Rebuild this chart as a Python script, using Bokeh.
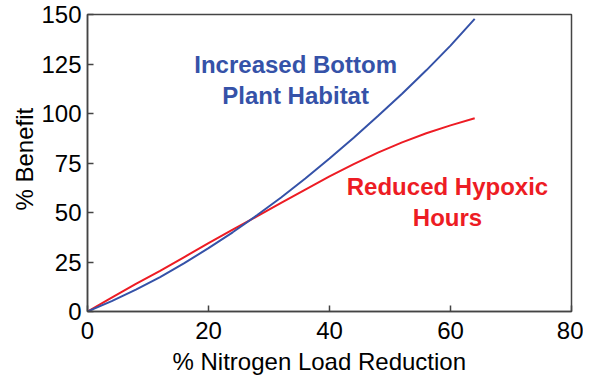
from bokeh.plotting import figure
from bokeh.models import Range1d, FixedTicker, Title
from bokeh.core.properties import value
from bokeh.embed import file_html
from bokeh.resources import INLINE

# Data
x_vals = [0, 4, 8, 12, 16, 20, 24, 28, 32, 36, 40, 44, 48, 52, 56, 60, 64]
habitat = [0, 5.2, 11, 17.4, 24.4, 32, 40, 48.6, 57.6, 67.2, 77.3, 87.8, 98.7, 110, 121.8, 134.3, 147.8]
hypoxic = [0, 7, 14, 20.5, 27.5, 34.5, 41.4, 48, 54.8, 61.6, 68.2, 74.4, 80.2, 85.4, 90, 94, 97.6]
x_ticks = [0, 20, 40, 60, 80]
y_ticks = [0, 25, 50, 75, 100, 125, 150]
x_title = "% Nitrogen Load Reduction"
y_title = "% Benefit"

BLUE = "#3552A8"
RED = "#ED1C24"
FONT = "Liberation Sans"

p = figure(width=583, height=383, output_backend="svg", toolbar_location=None,
           x_range=Range1d(0, 80), y_range=Range1d(0, 150),
           min_border_left=87, min_border_right=12, min_border_top=14, min_border_bottom=72)
p.xgrid.visible = False
p.ygrid.visible = False
p.outline_line_color = "#444444"
p.outline_line_width = 1.5
p.outline_line_alpha = 1.0

for ax in (p.xaxis[0], p.yaxis[0]):
    ax.axis_line_color = "#444444"
    ax.axis_line_width = 1.5
    ax.major_tick_in = 6
    ax.major_tick_out = 0
    ax.major_tick_line_color = "#444444"
    ax.major_tick_line_width = 1.5
    ax.minor_tick_line_color = None
    ax.major_label_text_font = FONT
    ax.major_label_text_font_size = "24px"
    ax.major_label_text_color = "black"

p.xaxis.ticker = FixedTicker(ticks=x_ticks)
p.yaxis.ticker = FixedTicker(ticks=y_ticks)
p.xaxis.major_label_standoff = 10
p.yaxis.major_label_standoff = 6

# Axis titles, placed slightly off-centre as in the reference
p.add_layout(Title(text=x_title, align="left", offset=85, standoff=8,
                   text_font=FONT, text_font_size="24px", text_font_style="normal",
                   text_color="black"), "below")
p.add_layout(Title(text=y_title, align="left", offset=101, standoff=2,
                   text_font=FONT, text_font_size="24px", text_font_style="normal",
                   text_color="black"), "left")

p.line(x_vals, hypoxic, line_color=RED, line_width=2)
p.line(x_vals, habitat, line_color=BLUE, line_width=2)

# Annotation labels
p.text(x=[34.4, 34.4], y=[124.7, 109], text=["Increased Bottom", "Plant Habitat"],
       text_color=BLUE, text_font=value(FONT), text_font_style="bold",
       text_font_size="24px", text_align="center", text_baseline="middle")
p.text(x=[59.5, 59.5], y=[63, 47.5], text=["Reduced Hypoxic", "Hours"],
       text_color=RED, text_font=value(FONT), text_font_style="bold",
       text_font_size="24px", text_align="center", text_baseline="middle")

open("out.html", "w").write(file_html(p, INLINE))
